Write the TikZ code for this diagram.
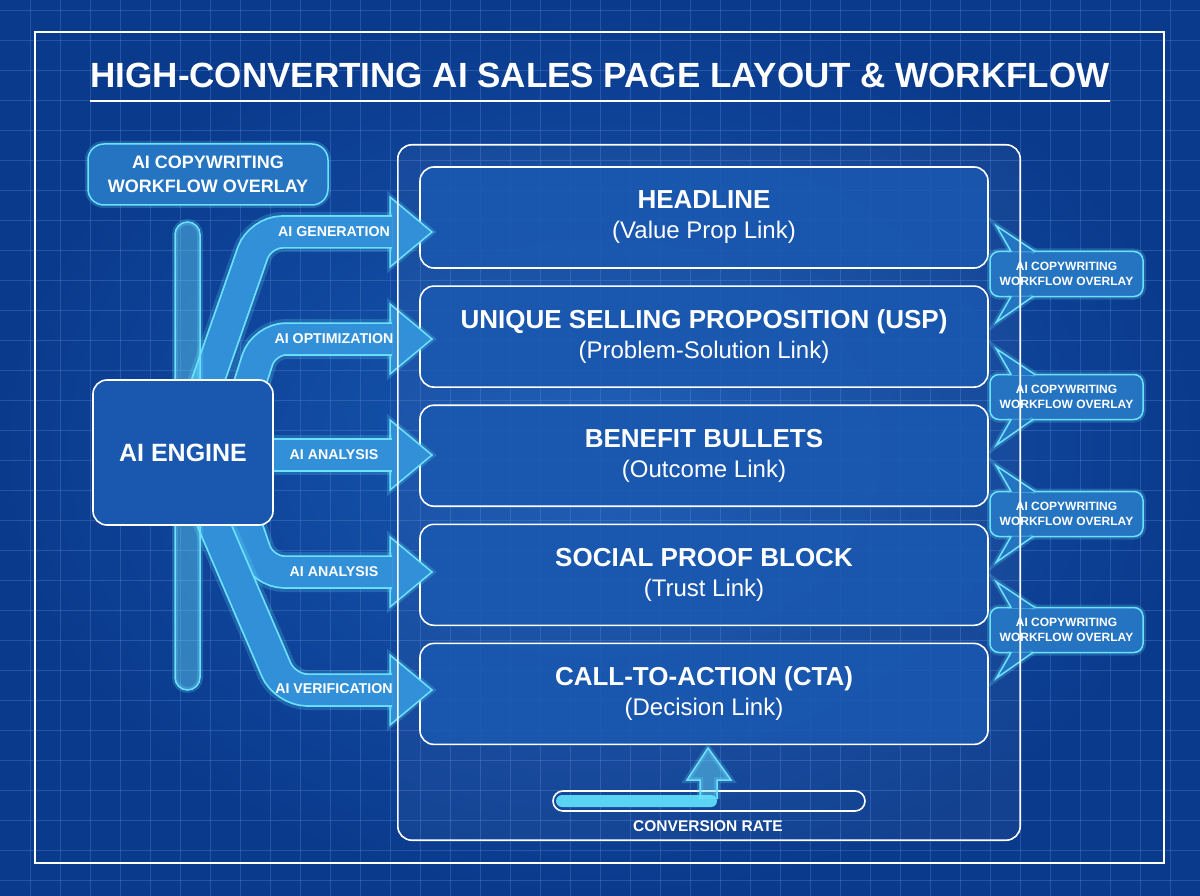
\documentclass[tikz,border=0pt]{standalone}
\usepackage{fontspec}
\setmainfont{Liberation Sans}
\usetikzlibrary{calc,positioning}
\definecolor{bgin}{HTML}{1759B4}
\definecolor{bgout}{HTML}{0A3A8C}
\definecolor{gridc}{HTML}{4A7CC8}
\definecolor{glowc}{HTML}{6BE3FF}
\definecolor{bandfill}{HTML}{3290D8}
\definecolor{boxfill}{HTML}{1A58B0}
\definecolor{bubfill}{HTML}{2574C2}
\definecolor{barfill}{HTML}{5BD4F4}
\newcommand{\sechead}[1]{{\fontsize{26}{30}\selectfont\bfseries #1}}

\begin{document}
\begin{tikzpicture}[x=1pt,y=-1pt,
  gridline/.style={gridc,line width=0.8,opacity=0.42},
  frame/.style={draw=white,line width=1.6},
  glow/.style={draw=glowc,line width=1.5,preaction={draw=glowc,line width=6,draw opacity=0.22}},
  secbox/.style={frame,fill=boxfill,fill opacity=0.85,text opacity=1,text=white,rounded corners=14,
    minimum width=568,minimum height=101,align=center,font=\fontsize{24}{30}\selectfont},
  bubble/.style={glow,fill=bubfill,text=white,rounded corners=9,minimum width=153,minimum height=45,
    inner sep=0,align=center,font=\fontsize{12}{14.5}\selectfont\bfseries},
  band/.style={draw=bandfill,line width=30,rounded corners=22,
    preaction={draw=glowc,line width=40,draw opacity=0.2},
    preaction={draw=glowc,line width=33.5}},
  tag/.style={text=white,inner sep=0,font=\fontsize{14.2}{17}\selectfont\bfseries}
]
  \useasboundingbox (0,0) rectangle (1200,896);
  \shade[inner color=bgin,outer color=bgout] (0,0) rectangle (1200,896);
  \foreach \x in {30,60,...,1170} \draw[gridline] (\x,0) -- (\x,896);
  \foreach \y in {10,40,...,880} \draw[gridline] (0,\y) -- (1200,\y);

  % frame and title
  \draw[frame] (35,32) rectangle (1164,863);
  \node[text=white,inner sep=0,font=\fontsize{35}{42}\selectfont\bfseries] (title) at (600,75)
    {HIGH-CONVERTING AI SALES PAGE LAYOUT \& WORKFLOW};
  \draw[white,line width=1.5] (90,101) -- (1110,101);

  % page layout
  \node[fill=white,fill opacity=0.04,rounded corners=14,minimum width=622,minimum height=695] (page) at (709,492.5) {};
  \node[secbox] (sec1) at (704,217.5) {\sechead{HEADLINE}\\(Value Prop Link)};
  \node[secbox,below=16.5pt of sec1] (sec2) {\sechead{UNIQUE SELLING PROPOSITION (USP)}\\(Problem-Solution Link)};
  \node[secbox,below=16.5pt of sec2] (sec3) {\sechead{BENEFIT BULLETS}\\(Outcome Link)};
  \node[secbox,below=16.5pt of sec3] (sec4) {\sechead{SOCIAL PROOF BLOCK}\\(Trust Link)};
  \node[secbox,below=16.5pt of sec4] (sec5) {\sechead{CALL-TO-ACTION (CTA)}\\(Decision Link)};

  % overlay callouts
  \node[bubble] (b1) at (1066.5,274) {AI COPYWRITING\\WORKFLOW OVERLAY};
  \node[bubble] (b2) at (1066.5,397) {AI COPYWRITING\\WORKFLOW OVERLAY};
  \node[bubble] (b3) at (1066.5,514) {AI COPYWRITING\\WORKFLOW OVERLAY};
  \node[bubble] (b4) at (1066.5,630) {AI COPYWRITING\\WORKFLOW OVERLAY};
  \foreach \b in {b1,b2,b3,b4} {
    \draw[glow,fill=bubfill] ($(\b.north west)+(22,1)$) -- ($(\b.north west)+(7,-25)$) -- ($(\b.north west)+(46,1)$);
    \draw[glow,fill=bubfill] ($(\b.south west)+(22,-1)$) -- ($(\b.south west)+(7,25)$) -- ($(\b.south west)+(44,-1)$);
  }

  % AI engine flows
  \coordinate (t1) at (432,232);
  \coordinate (t2) at (432,339);
  \coordinate (t3) at (432,455);
  \coordinate (t4) at (432,572);
  \coordinate (t5) at (432,690);
  \foreach \t in {t1,t2,t3,t4,t5}
    \draw[glow,fill=bandfill] ([xshift=-42pt,yshift=35pt]\t) -- (\t) -- ([xshift=-42pt,yshift=-35pt]\t) -- cycle;
  \node[minimum width=180,minimum height=145] (engine) at (183,452.5) {};
  \draw[band] (engine.center) -- (260,232) -- ([xshift=-40pt]t1);
  \draw[band] ($(engine.center)+(45,0)$) -- (264,339) -- ([xshift=-40pt]t2);
  \draw[band] (engine.center |- t3) -- ([xshift=-40pt]t3);
  \draw[band] ($(engine.center)+(52,40)$) -- (262,572) -- ([xshift=-40pt]t4);
  \draw[band] (engine.center) -- (285,690) -- ([xshift=-40pt]t5);
  \draw[glow,fill=glowc,fill opacity=0.4,rounded corners=12.5] (175,222) rectangle (200,690);
  \node[frame,fill=boxfill,text=white,rounded corners=14,minimum width=180,minimum height=145,
    font=\fontsize{25}{30}\selectfont\bfseries] at (engine) {AI ENGINE};
  \node[tag] (lab1) at (334,232) {AI GENERATION};
  \node[tag] (lab2) at (334,339) {AI OPTIMIZATION};
  \node[tag] (lab3) at (334,455) {AI ANALYSIS};
  \node[tag] (lab4) at (334,572) {AI ANALYSIS};
  \node[tag] (lab5) at (334,689) {AI VERIFICATION};
  \node[glow,fill=bubfill,text=white,rounded corners=16,minimum width=240,minimum height=61,align=center,
    inner sep=0,font=\fontsize{18}{24}\selectfont\bfseries] (ovl) at (208,174.5) {AI COPYWRITING\\WORKFLOW OVERLAY};

  \draw[frame,rounded corners=14] (page.north west) rectangle (page.south east);

  % conversion meter
  \node[frame,rounded corners=10,minimum width=312,minimum height=20] (bar) at (709,801) {};
  \fill[barfill,rounded corners=6] (556,795) rectangle (717,807);
  \draw[glow,fill=glowc,fill opacity=0.45] (700,799) -- (700,780) -- (687,780) -- (708,748) -- (731,780) -- (717,780) -- (717,799);
  \node[tag,font=\fontsize{15.5}{18}\selectfont\bfseries] (conv) at (708,826) {CONVERSION RATE};
\end{tikzpicture}
\end{document}
